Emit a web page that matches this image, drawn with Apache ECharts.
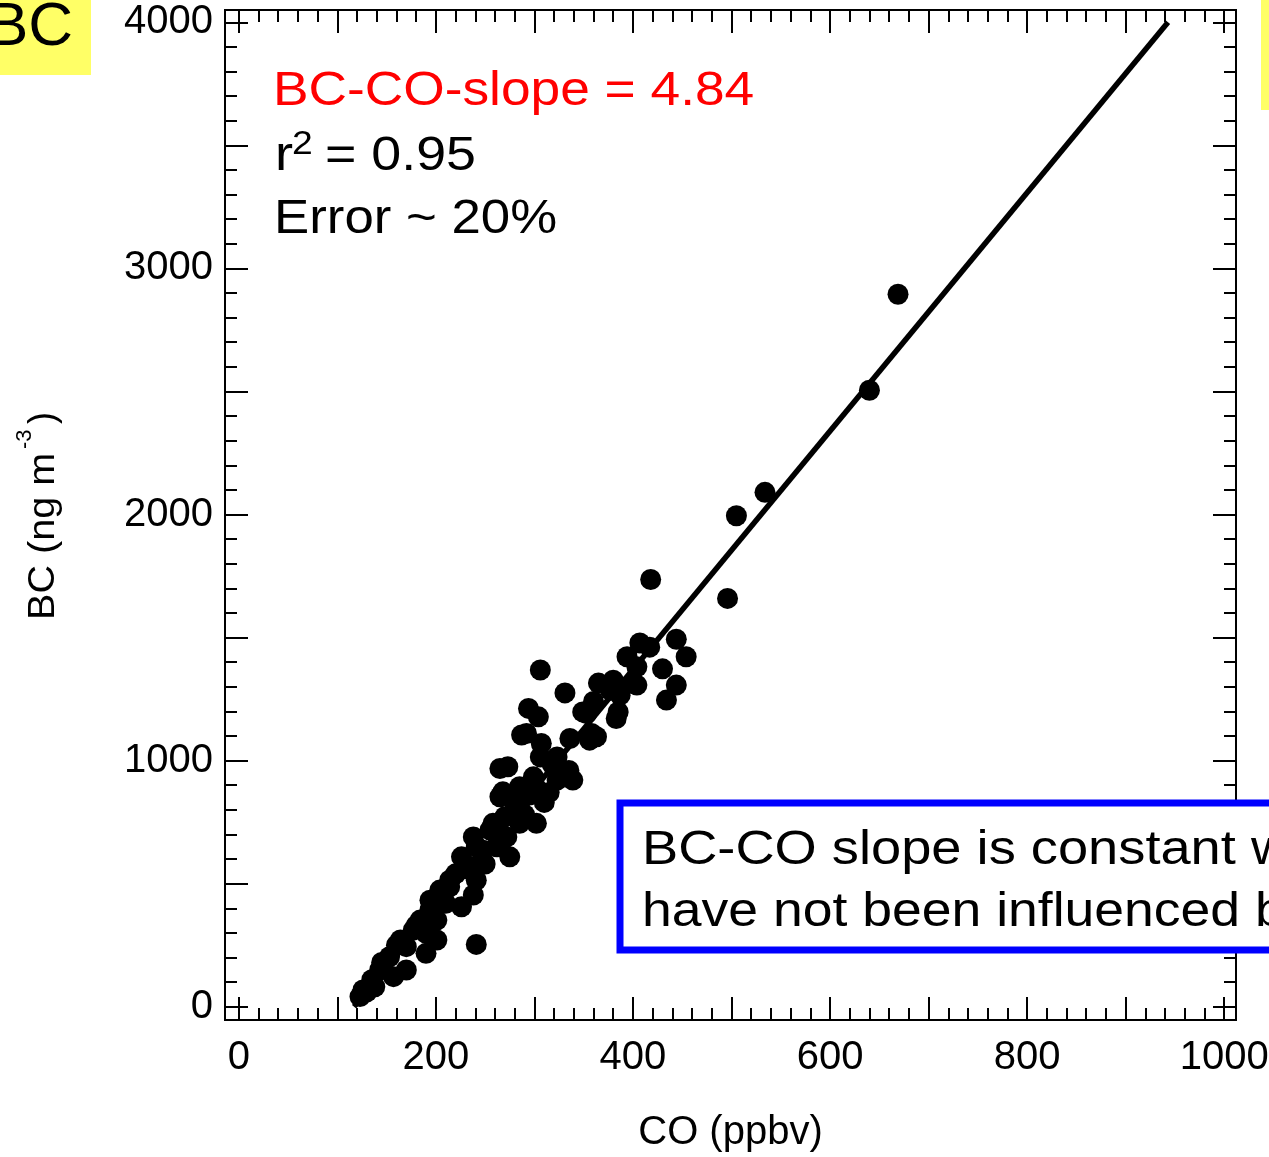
<!DOCTYPE html>
<html>
<head>
<meta charset="utf-8">
<script src="https://cdn.jsdelivr.net/npm/echarts@6/dist/echarts.min.js"></script>
<style>
html,body{margin:0;padding:0;background:#fff;}
#chart{width:1269px;height:1157px;}
</style>
</head>
<body>
<div id="chart"></div>
<script>
// CO (ppbv) values of each observation
const coValues = [
 669,640,534,505,496,418,
 444,454,430,444,434,407,417,394,404,365,380,404,387,331,349,385,
 306,294,304,287,307,265,336,358,383,377,339,323,299,285,268,323,356,399,
 292,353,363,273,306,323,301,265,285,302,285,270,258,255,272,238,226,248,275,262,238,214,
 241,241,238,226,204,214,194,194,241,177,190,190,170,153,170,143,157,138,126,123,184,201,201,164,
 290,310,295,280,315,250,232,220,200,210,180,160,145,135,130,318,335,360
];
// BC (ng m-3) values of each observation
const bcValues = [
 2895,2505,2090,1995,1659,1736,
 1493,1422,1373,1307,1246,1478,1461,1422,1381,1315,1327,1307,1266,1275,1198,1198,
 1368,1212,1178,1104,1070,968,1090,1110,1171,1286,921,1015,934,894,873,921,1083,1313,
 1110,1191,1097,975,1015,961,894,853,812,745,745,772,745,718,690,690,609,636,609,650,569,514,
 650,514,454,406,474,487,433,393,253,311,298,217,244,203,149,149,122,81,68,41,352,352,271,271,
 780,830,860,830,870,580,560,540,440,420,330,250,180,110,60,985,960,1240
];
// regression line end points
const fitCO = [117, 943];
const fitBC = [0, 4000];

const xMajorTicks = [0,100,200,300,400,500,600,700,800,900,1000];
const xTickLabels = [0,200,400,600,800,1000];
const yMajorTicks = [0,500,1000,1500,2000,2500,3000,3500,4000];
const yTickLabels = [0,1000,2000,3000,4000];

const xMinorTicks = [];
for (let v = 20; v < 1010; v += 20) if (v % 100 !== 0) xMinorTicks.push(v);
const yMinorTicks = [];
for (let v = 100; v < 4050; v += 100) if (v % 500 !== 0) yMinorTicks.push(v);

const points = coValues.map((c, i) => [c, bcValues[i]]);
const fitLine = fitCO.map((c, i) => [c, fitBC[i]]);

const FONT = '"Liberation Sans", Arial, sans-serif';
const XMIN = -14, XMAX = 1012, YMIN = -54, YMAX = 4050;
const lineSt = {color:'#000', width:2};
const plain = v => String(v);

function xAx(pos, ticks, len, labels, extra) {
  return Object.assign({
    type:'value', position:pos, min:XMIN, max:XMAX,
    axisLine:{show:true, onZero:false, lineStyle:lineSt},
    axisTick:{show:true, inside:true, length:len, customValues:ticks, lineStyle:lineSt},
    axisLabel:labels ? {show:true, customValues:labels, margin:18, fontSize:40, color:'#000', fontFamily:FONT, formatter:plain, hideOverlap:false} : {show:false},
    splitLine:{show:false}
  }, extra || {});
}
function yAx(pos, ticks, len, labels, extra) {
  return Object.assign({
    type:'value', position:pos, min:YMIN, max:YMAX,
    axisLine:{show:true, onZero:false, lineStyle:lineSt},
    axisTick:{show:true, inside:true, length:len, customValues:ticks, lineStyle:lineSt},
    axisLabel:labels ? {show:true, customValues:labels, margin:12, fontSize:40, color:'#000', fontFamily:FONT, formatter:plain, hideOverlap:false} : {show:false},
    splitLine:{show:false}
  }, extra || {});
}

const chart = echarts.init(document.getElementById('chart'), null, {renderer:'canvas'});
chart.setOption({
  backgroundColor:'#fff',
  animation:false,
  grid:{left:225, top:10, width:1011, height:1010, containLabel:false, outerBoundsMode:'none'},
  xAxis:[
    xAx('bottom', xMajorTicks, 23, xTickLabels, {name:'CO (ppbv)', nameLocation:'middle', nameGap:93,
      nameTextStyle:{fontSize:40, color:'#000', fontFamily:FONT}}),
    xAx('bottom', xMinorTicks, 12, null),
    xAx('top', xMajorTicks, 23, null),
    xAx('top', xMinorTicks, 12, null)
  ],
  yAxis:[
    yAx('left', yMajorTicks, 23, yTickLabels),
    yAx('left', yMinorTicks, 12, null),
    yAx('right', yMajorTicks, 23, null),
    yAx('right', yMinorTicks, 12, null)
  ],
  series:[
    {type:'line', data:fitLine, xAxisIndex:0, yAxisIndex:0, symbol:'none',
     lineStyle:{color:'#000', width:5.5}, z:2, silent:true},
    {type:'scatter', data:points, xAxisIndex:0, yAxisIndex:0, symbol:'circle', symbolSize:21,
     itemStyle:{color:'#000', opacity:1}, z:3, silent:true}
  ],
  graphic:[
    {type:'rect', shape:{x:0, y:0, width:91, height:75}, style:{fill:'#ffff66'}, z:10},
    {type:'text', x:-13, y:28, z:11, style:{text:'BC', font:'62px ' + FONT, fill:'#000', verticalAlign:'middle'}},
    {type:'rect', shape:{x:1261, y:0, width:20, height:110}, style:{fill:'#ffff66'}, z:10},
    {type:'text', x:273, y:92, scaleX:1.11, z:11, style:{text:'BC-CO-slope = 4.84', font:'48px ' + FONT, fill:'#ff0000', verticalAlign:'middle'}},
    {type:'text', x:275, y:157, scaleX:1.13, z:11, style:{text:'r', font:'48px ' + FONT, fill:'#000', verticalAlign:'middle'}},
    {type:'text', x:292, y:145, scaleX:1.13, z:11, style:{text:'2', font:'33px ' + FONT, fill:'#000', verticalAlign:'middle'}},
    {type:'text', x:325, y:157, scaleX:1.12, z:11, style:{text:'= 0.95', font:'48px ' + FONT, fill:'#000', verticalAlign:'middle'}},
    {type:'text', x:274, y:220, scaleX:1.1, z:11, style:{text:'Error ~ 20%', font:'48px ' + FONT, fill:'#000', verticalAlign:'middle'}},
    {type:'rect', shape:{x:620, y:803, width:700, height:147}, style:{fill:'#fff', stroke:'#0000ff', lineWidth:7}, z:10},
    {type:'text', x:642, y:851, scaleX:1.13, z:11, style:{text:'BC-CO slope is constant w', font:'48px ' + FONT, fill:'#000', verticalAlign:'middle'}},
    {type:'text', x:642, y:913, scaleX:1.115, z:11, style:{text:'have not been influenced b', font:'48px ' + FONT, fill:'#000', verticalAlign:'middle'}},
    {type:'group', x:44, y:620, rotation:Math.PI/2, z:11, children:[
      {type:'text', x:0, y:0, scaleX:1.1, style:{text:'BC (ng m', font:'36px ' + FONT, fill:'#000', verticalAlign:'middle'}},
      {type:'text', x:171, y:-19, style:{text:'-3', font:'22px ' + FONT, fill:'#000', verticalAlign:'middle'}},
      {type:'text', x:196, y:0, style:{text:')', font:'36px ' + FONT, fill:'#000', verticalAlign:'middle'}}
    ]}
  ]
});
</script>
</body>
</html>
